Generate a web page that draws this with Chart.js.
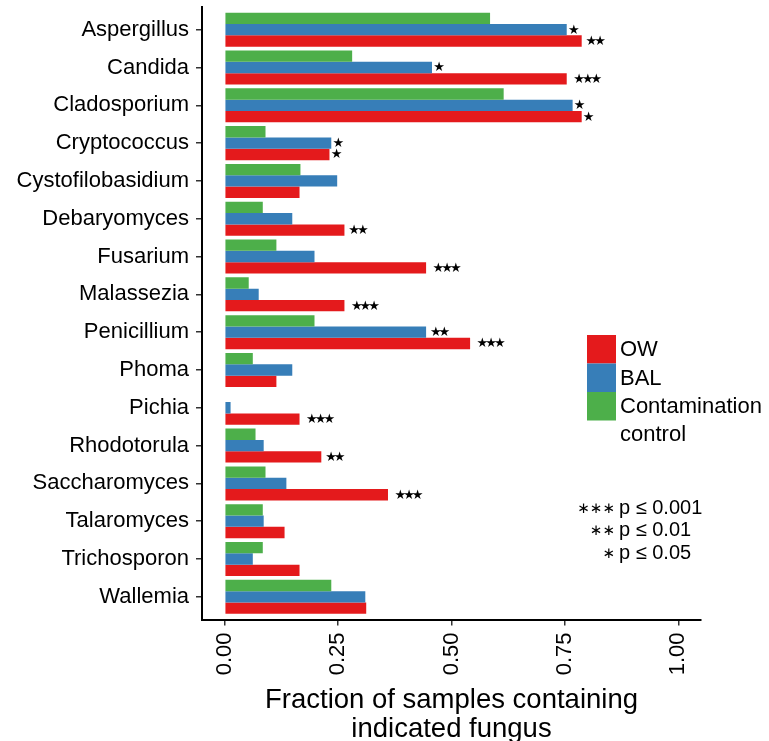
<!DOCTYPE html>
<html>
<head>
<meta charset="utf-8">
<script src="https://cdn.jsdelivr.net/npm/chart.js@4"></script>
<style>
  html, body { margin: 0; padding: 0; background: #fff; }
  #wrap { width: 769px; height: 741px; }
</style>
</head>
<body>
<div id="wrap"><canvas id="c" width="769" height="741"></canvas></div>
<script>
const categories = ['Aspergillus','Candida','Cladosporium','Cryptococcus','Cystofilobasidium','Debaryomyces','Fusarium','Malassezia','Penicillium','Phoma','Pichia','Rhodotorula','Saccharomyces','Talaromyces','Trichosporon','Wallemia'];
const owValues      = [0.787,0.754,0.787,0.231,0.165,0.264,0.444,0.264,0.541,0.114,0.165,0.213,0.360,0.132,0.165,0.312];
const balValues     = [0.754,0.457,0.767,0.235,0.248,0.149,0.198,0.075,0.444,0.149,0.013,0.086,0.136,0.086,0.062,0.310];
const controlValues = [0.585,0.281,0.615,0.090,0.167,0.084,0.114,0.053,0.198,0.062,0.000,0.068,0.090,0.084,0.084,0.235];
const owSig      = ['**','***','*','*','','**','***','***','***','','***','**','***','','',''];
const balSig     = ['*','*','*','*','','','','','**','','','','','','',''];
const controlSig = ['','','','','','','','','','','','','','','',''];
const xTicks = [0, 0.25, 0.5, 0.75, 1.0];
const seriesNames = ['OW','BAL','Contamination control'];
const sigLegend = [['***','p \u2264 0.001'],['**','p \u2264 0.01'],['*','p \u2264 0.05']];
const COLORS = { ow: '#E41A1C', bal: '#377EB8', control: '#4DAF4A' };
const FONT = '"Liberation Sans", Arial, Helvetica, sans-serif';

const toPts = arr => arr.map((v, i) => ({ x: v, y: i }));

const starPlugin = {
  id: 'stars',
  afterDatasetsDraw(chart) {
    const ctx = chart.ctx;
    ctx.save();
    ctx.fillStyle = '#000';
    ctx.font = '13px "DejaVu Sans"';
    ctx.textAlign = 'center';
    ctx.textBaseline = 'middle';
    chart.data.datasets.forEach((ds, di) => {
      const meta = chart.getDatasetMeta(di);
      meta.data.forEach((el, i) => {
        const s = ds.sig[i];
        if (!s) return;
        const n = s.length;
        const c = el.x + 7 * n;
        for (let k = 0; k < n; k++) {
          const cx = c + (k - (n - 1) / 2) * 8.7;
          ctx.fillText('\u2605', cx, el.y + 0.5);
        }
      });
    });
    ctx.restore();
  }
};

const legendPlugin = {
  id: 'customLegend',
  afterDraw(chart) {
    const ctx = chart.ctx;
    const ca = chart.chartArea;
    const x0 = ca.right - 114;
    const y0 = 335;
    const bw = 29, bh = 28.5;
    const cols = [COLORS.ow, COLORS.bal, COLORS.control];
    ctx.save();
    cols.forEach((c, i) => {
      ctx.fillStyle = c;
      ctx.fillRect(x0, y0 + i * bh, bw, bh);
    });
    ctx.fillStyle = '#000';
    ctx.font = '22px ' + FONT;
    ctx.textAlign = 'left';
    ctx.textBaseline = 'middle';
    const tx = x0 + bw + 4;
    ctx.fillText(seriesNames[0], tx, y0 + bh * 0.5 + 1);
    ctx.fillText(seriesNames[1], tx, y0 + bh * 1.5 + 1);
    ctx.fillText('Contamination', tx, y0 + bh * 2.5 + 1);
    ctx.fillText('control', tx, y0 + bh * 2.5 + 29);
    const sy = 508;
    sigLegend.forEach((row, i) => {
      const y = sy + i * 22.5;
      ctx.font = '20px ' + FONT;
      ctx.textAlign = 'left';
      ctx.fillText(row[1], tx - 1, y);
      ctx.font = '15px "DejaVu Sans"';
      ctx.textAlign = 'right';
      ctx.fillText(row[0].replace(/\*/g, '\u2217'), tx - 5, y + 1);
    });
    ctx.restore();
  }
};

new Chart(document.getElementById('c'), {
  type: 'bar',
  data: {
    datasets: [
      { label: seriesNames[2], data: toPts(controlValues), sig: controlSig, backgroundColor: COLORS.control },
      { label: seriesNames[1], data: toPts(balValues), sig: balSig, backgroundColor: COLORS.bal },
      { label: seriesNames[0], data: toPts(owValues), sig: owSig, backgroundColor: COLORS.ow }
    ]
  },
  options: {
    indexAxis: 'y',
    responsive: false,
    animation: false,
    devicePixelRatio: 1,
    layout: { padding: { left: 0, top: 7, right: 68, bottom: 0 } },
    datasets: { bar: { categoryPercentage: 0.9, barPercentage: 1.0, borderWidth: 0 } },
    plugins: { legend: { display: false }, tooltip: { enabled: false } },
    scales: {
      y: {
        type: 'linear',
        reverse: true,
        offset: false,
        min: -0.6,
        max: 15.6,
        afterBuildTicks: (axis) => { axis.ticks = categories.map((_, i) => ({ value: i })); },
        afterFit: (s) => { s.width = 202; s.paddingTop = 0; s.paddingBottom = 0; },
        ticks: {
          autoSkip: false,
          padding: 7,
          color: '#000',
          font: { family: FONT, size: 22 },
          callback: (v) => categories[v]
        },
        grid: { display: true, offset: false, drawOnChartArea: false, drawTicks: true, tickLength: 6, color: '#333', lineWidth: 1.5 },
        border: { display: true, color: '#000', width: 2 }
      },
      x: {
        type: 'linear',
        min: -0.05,
        max: 1.05,
        afterBuildTicks: (axis) => { axis.ticks = xTicks.map(v => ({ value: v })); },
        afterFit: (s) => { s.height = 121.5; s.paddingLeft = 0; s.paddingRight = 0; },
        ticks: {
          autoSkip: false,
          minRotation: 90,
          maxRotation: 90,
          padding: 7,
          color: '#000',
          font: { family: FONT, size: 22 },
          callback: (v) => Number(v).toFixed(2)
        },
        grid: { display: true, offset: false, drawOnChartArea: false, drawTicks: true, tickLength: 6, color: '#333', lineWidth: 1.5 },
        border: { display: true, color: '#000', width: 2 },
        title: {
          display: true,
          text: ['Fraction of samples containing', 'indicated fungus'],
          color: '#000',
          font: { family: FONT, size: 27.5, lineHeight: '29px' },
          padding: { top: 0, bottom: -2.5 }
        }
      }
    }
  },
  plugins: [starPlugin, legendPlugin]
});
</script>
</body>
</html>
